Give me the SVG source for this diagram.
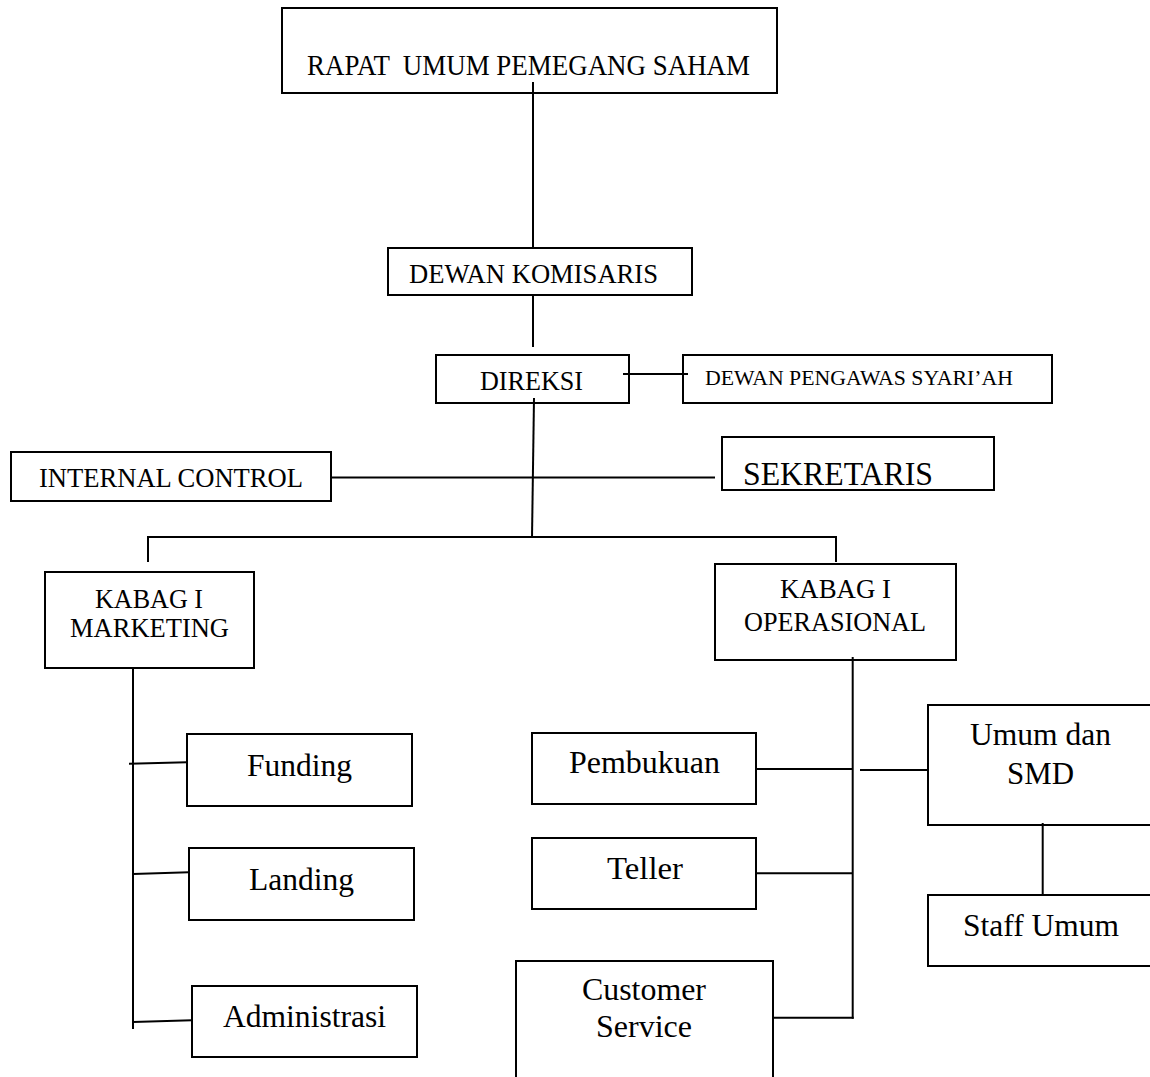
<svg xmlns="http://www.w3.org/2000/svg" width="1150" height="1077" viewBox="0 0 1150 1077">
<style>
.box{fill:#fff;stroke:#000;stroke-width:2}
.ln{stroke:#000;stroke-width:2;fill:none}
text{font-family:"Liberation Serif","Times New Roman",serif;fill:#000}
.t26{font-size:28px}
.t31{font-size:31.5px}
</style>
<rect width="1150" height="1077" fill="#fff"/>
<g id="rups">
<rect class="box" x="282" y="8" width="495" height="85"/>
<text x="307" y="75" font-size="30" xml:space="preserve" textLength="443" lengthAdjust="spacingAndGlyphs">RAPAT  UMUM PEMEGANG SAHAM</text>
</g>
<g id="dewan-komisaris">
<rect class="box" x="388" y="248" width="304" height="47"/>
<text class="t26" x="409" y="282.5" textLength="249" lengthAdjust="spacingAndGlyphs">DEWAN KOMISARIS</text>
</g>
<g id="direksi">
<rect class="box" x="436" y="355" width="193" height="48"/>
<text class="t26" x="480" y="390" textLength="103" lengthAdjust="spacingAndGlyphs">DIREKSI</text>
</g>
<g id="dewan-pengawas-syariah">
<rect class="box" x="683" y="355" width="369" height="48"/>
<text x="705" y="385" font-size="21" textLength="308" lengthAdjust="spacingAndGlyphs">DEWAN PENGAWAS SYARI’AH</text>
</g>
<g id="internal-control">
<rect class="box" x="11" y="452" width="320" height="49"/>
<text class="t26" x="39" y="486.7" textLength="264" lengthAdjust="spacingAndGlyphs">INTERNAL CONTROL</text>
</g>
<g id="sekretaris">
<rect class="box" x="722" y="437" width="272" height="53"/>
<text x="743" y="485" font-size="33" textLength="190" lengthAdjust="spacingAndGlyphs">SEKRETARIS</text>
</g>
<g id="kabag-marketing">
<rect class="box" x="45" y="572" width="209" height="96"/>
<text class="t26" x="95" y="608.3" textLength="108" lengthAdjust="spacingAndGlyphs">KABAG I</text>
<text class="t26" x="70" y="637.3" textLength="159" lengthAdjust="spacingAndGlyphs">MARKETING</text>
</g>
<g id="kabag-operasional">
<rect class="box" x="715" y="564" width="241" height="96"/>
<text class="t26" x="780" y="598.3" textLength="111" lengthAdjust="spacingAndGlyphs">KABAG I</text>
<text class="t26" x="744" y="630.7" textLength="182" lengthAdjust="spacingAndGlyphs">OPERASIONAL</text>
</g>
<g id="funding">
<rect class="box" x="187" y="734" width="225" height="72"/>
<text class="t31" x="247" y="776" textLength="105" lengthAdjust="spacingAndGlyphs">Funding</text>
</g>
<g id="landing">
<rect class="box" x="189" y="848" width="225" height="72"/>
<text class="t31" x="249" y="890" textLength="105" lengthAdjust="spacingAndGlyphs">Landing</text>
</g>
<g id="administrasi">
<rect class="box" x="192" y="986" width="225" height="71"/>
<text class="t31" x="223" y="1026.7" textLength="163" lengthAdjust="spacingAndGlyphs">Administrasi</text>
</g>
<g id="pembukuan">
<rect class="box" x="532" y="733" width="224" height="71"/>
<text class="t31" x="569" y="773.3" textLength="151" lengthAdjust="spacingAndGlyphs">Pembukuan</text>
</g>
<g id="teller">
<rect class="box" x="532" y="838" width="224" height="71"/>
<text class="t31" x="607" y="879.3" textLength="76" lengthAdjust="spacingAndGlyphs">Teller</text>
</g>
<g id="customer-service">
<rect class="box" x="516" y="961" width="257" height="130"/>
<text class="t31" x="582" y="1000" textLength="124" lengthAdjust="spacingAndGlyphs">Customer</text>
<text class="t31" x="596" y="1036.7" textLength="96" lengthAdjust="spacingAndGlyphs">Service</text>
</g>
<g id="umum-dan-smd">
<rect class="box" x="928" y="705" width="240" height="120"/>
<text class="t31" x="970" y="745" textLength="141" lengthAdjust="spacingAndGlyphs">Umum dan</text>
<text class="t31" x="1007" y="784" textLength="67" lengthAdjust="spacingAndGlyphs">SMD</text>
</g>
<g id="staff-umum">
<rect class="box" x="928" y="895" width="240" height="71"/>
<text class="t31" x="963" y="936" textLength="156" lengthAdjust="spacingAndGlyphs">Staff Umum</text>
</g>
<g id="connectors">
<line class="ln" x1="533" y1="82" x2="533" y2="248"/>
<line class="ln" x1="533" y1="296" x2="533" y2="347"/>
<line class="ln" x1="623" y1="374" x2="688" y2="374"/>
<line class="ln" x1="534" y1="398" x2="532" y2="538"/>
<line class="ln" x1="331" y1="477.5" x2="715" y2="477.5"/>
<line class="ln" x1="147" y1="537" x2="837" y2="537"/>
<line class="ln" x1="148" y1="536" x2="148" y2="562"/>
<line class="ln" x1="836" y1="536" x2="836" y2="562"/>
<line class="ln" x1="133" y1="669" x2="133" y2="1029"/>
<line class="ln" x1="129" y1="763.7" x2="187" y2="762.3"/>
<line class="ln" x1="133" y1="874" x2="189" y2="872.3"/>
<line class="ln" x1="133" y1="1022" x2="192" y2="1020.3"/>
<line class="ln" x1="852.7" y1="657" x2="852.7" y2="1018.7"/>
<line class="ln" x1="757" y1="769" x2="852.7" y2="769"/>
<line class="ln" x1="860" y1="770" x2="927" y2="770"/>
<line class="ln" x1="757" y1="873.3" x2="852.7" y2="873.3"/>
<line class="ln" x1="773.6" y1="1017.7" x2="853.7" y2="1017.7"/>
<line class="ln" x1="1042.7" y1="823" x2="1042.7" y2="896"/>
</g>
</svg>
